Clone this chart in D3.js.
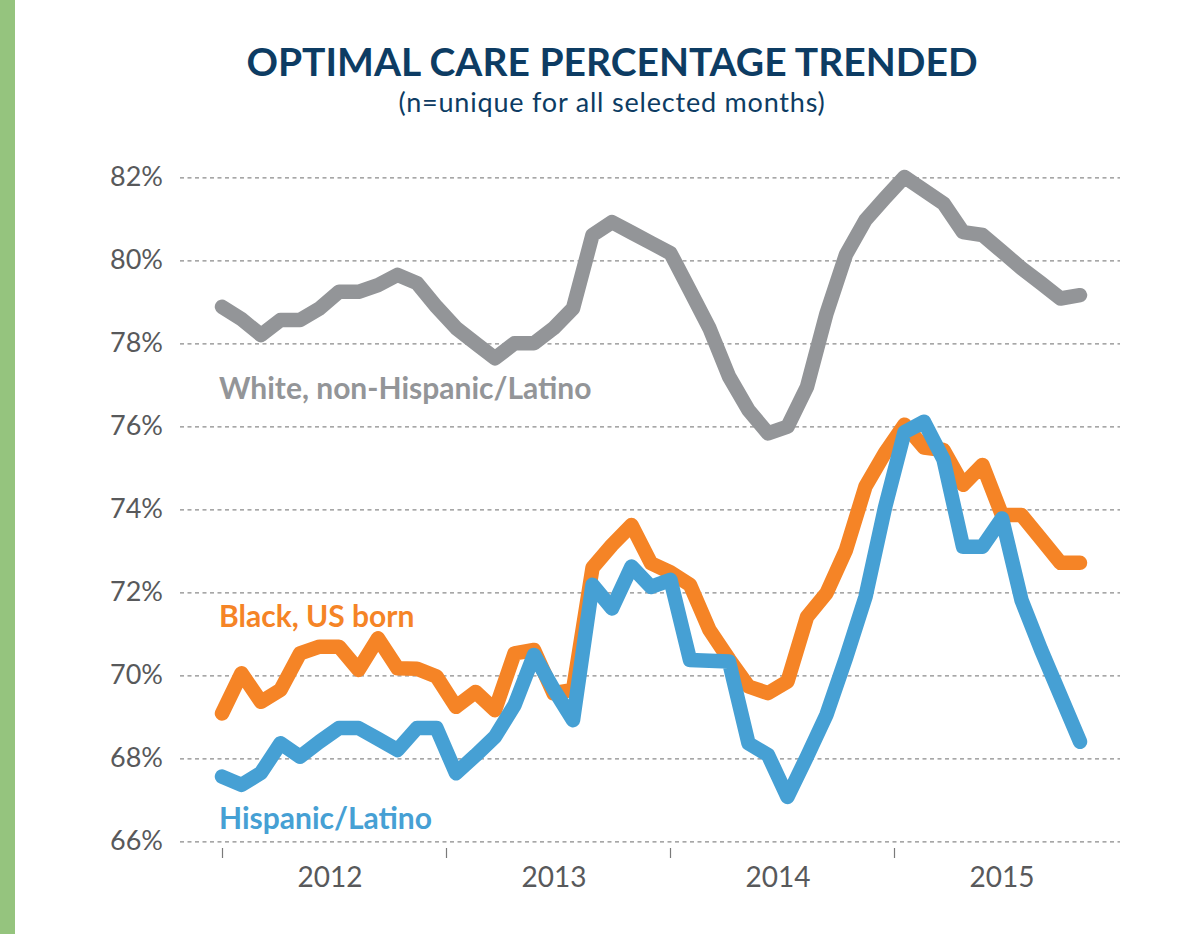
<!DOCTYPE html>
<html>
<head>
<meta charset="utf-8">
<script src="https://cdn.jsdelivr.net/npm/d3@7"></script>
<style>
  body { margin: 0; background: #fff; }
  text { font-family: Lato, "Open Sans", sans-serif; }
</style>
</head>
<body>
<svg id="chart"></svg>
<script>
// monthly values, Jan 2012 onwards
const white = [78.88, 78.58, 78.20, 78.56, 78.56, 78.84, 79.24, 79.24, 79.40, 79.65,
  79.45, 78.88, 78.37, 78.00, 77.64, 78.00, 78.00, 78.36, 78.84, 80.61,
  80.92, 80.67, 80.42, 80.17, 79.27, 78.36, 77.20, 76.39, 75.83, 75.99,
  76.95, 78.72, 80.14, 80.97, 81.50, 82.01, 81.69, 81.37, 80.68, 80.61,
  80.21, 79.81, 79.45, 79.08, 79.16];
const black = [69.08, 70.05, 69.36, 69.65, 70.53, 70.69, 70.69, 70.13, 70.89, 70.17,
  70.16, 69.97, 69.24, 69.60, 69.16, 70.53, 70.61, 69.57, 69.65, 72.59,
  73.14, 73.62, 72.70, 72.48, 72.18, 71.09, 70.39, 69.73, 69.57, 69.85,
  71.41, 71.98, 73.02, 74.55, 75.36, 76.04, 75.49, 75.43, 74.59, 75.07,
  73.86, 73.86, 73.29, 72.71, 72.71];
const hispanic = [67.56, 67.36, 67.65, 68.36, 68.04, 68.40, 68.73, 68.73, 68.47, 68.20,
  68.73, 68.73, 67.64, 68.07, 68.52, 69.28, 70.49, 69.67, 68.92, 72.18,
  71.61, 72.62, 72.13, 72.30, 70.37, 70.35, 70.33, 68.36, 68.08, 67.07,
  68.04, 69.05, 70.42, 71.89, 74.04, 75.86, 76.11, 75.20, 73.10, 73.10,
  73.78, 71.81, 70.62, 69.51, 68.40];

const seriesNames = ["White, non-Hispanic/Latino", "Black, US born", "Hispanic/Latino"];
const years = [2012, 2013, 2014, 2015];
const yTicks = [66, 68, 70, 72, 74, 76, 78, 80, 82];

const width = 1198, height = 934;
const colors = ["#939598", "#f58426", "#46a0d4"];

const svg = d3.select("#chart").attr("width", width).attr("height", height);

// green band on the left edge
svg.append("rect").attr("x", 0).attr("y", 0).attr("width", 15).attr("height", height).attr("fill", "#95c47e");

// titles
svg.append("text")
  .attr("x", 612).attr("y", 76)
  .attr("text-anchor", "middle")
  .attr("fill", "#0d3c63")
  .style("font-size", "39px").style("font-weight", 700)
  .text("OPTIMAL CARE PERCENTAGE TRENDED");
svg.append("text")
  .attr("x", 612).attr("y", 112)
  .attr("text-anchor", "middle")
  .attr("fill", "#0d3c63")
  .style("font-size", "27px")
  .style("letter-spacing", "0.8px")
  .text("(n=unique for all selected months)");

const left = 180, right = 1120;
const idx = d3.range(white.length);
const x = d3.scaleLinear().domain([0, idx.length - 1]).range([222, 1080]);
const y = d3.scaleLinear().domain([66, 82]).range([841.3, 177.3]);
const xYear = d3.scaleLinear().domain([2012, 2016]).range([222, 1118]);

// y axis + dashed gridlines
const yAxis = svg.append("g")
  .attr("transform", "translate(" + left + ",0)")
  .call(d3.axisLeft(y).tickValues(yTicks).tickFormat(d => d + "%")
    .tickSize(-(right - left)).tickPadding(17));
yAxis.select(".domain").remove();
yAxis.selectAll(".tick line")
  .attr("stroke", "#8a8a8a")
  .attr("stroke-width", 1.3)
  .attr("stroke-dasharray", "4 3.5");
yAxis.selectAll(".tick text")
  .attr("fill", "#58595b")
  .style("font-size", "27px")
  .style("font-family", "Lato, sans-serif");

// x axis: tick marks at year boundaries, labels centred in each year
const xAxis = svg.append("g")
  .attr("transform", "translate(0,848)")
  .call(d3.axisBottom(xYear).tickValues(years).tickFormat("").tickSize(10));
xAxis.select(".domain").remove();
xAxis.selectAll(".tick line").attr("stroke", "#7a7a7a").attr("stroke-width", 1.2);

svg.append("g").selectAll("text")
  .data(years)
  .enter()
  .append("text")
  .attr("x", d => xYear(d + 0.5) - 4)
  .attr("y", 887)
  .attr("text-anchor", "middle")
  .attr("fill", "#58595b")
  .style("font-size", "28px")
  .text(d => d);

// lines
const line = d3.line()
  .x((d, i) => x(i))
  .y(d => y(d));

[white, black, hispanic].forEach((data, index) => {
  svg.append("path")
    .datum(data)
    .attr("fill", "none")
    .attr("stroke", colors[index])
    .attr("stroke-width", 14.5)
    .attr("stroke-linejoin", "round")
    .attr("stroke-linecap", "round")
    .attr("d", line);
});

// series labels
const labelY = [76.66, 71.16, 66.3];
seriesNames.forEach((name, index) => {
  svg.append("text")
    .attr("x", 219)
    .attr("y", y(labelY[index]))
    .attr("fill", colors[index])
    .style("font-size", "30px")
    .style("font-weight", 700)
    .text(name);
});
</script>
</body>
</html>
